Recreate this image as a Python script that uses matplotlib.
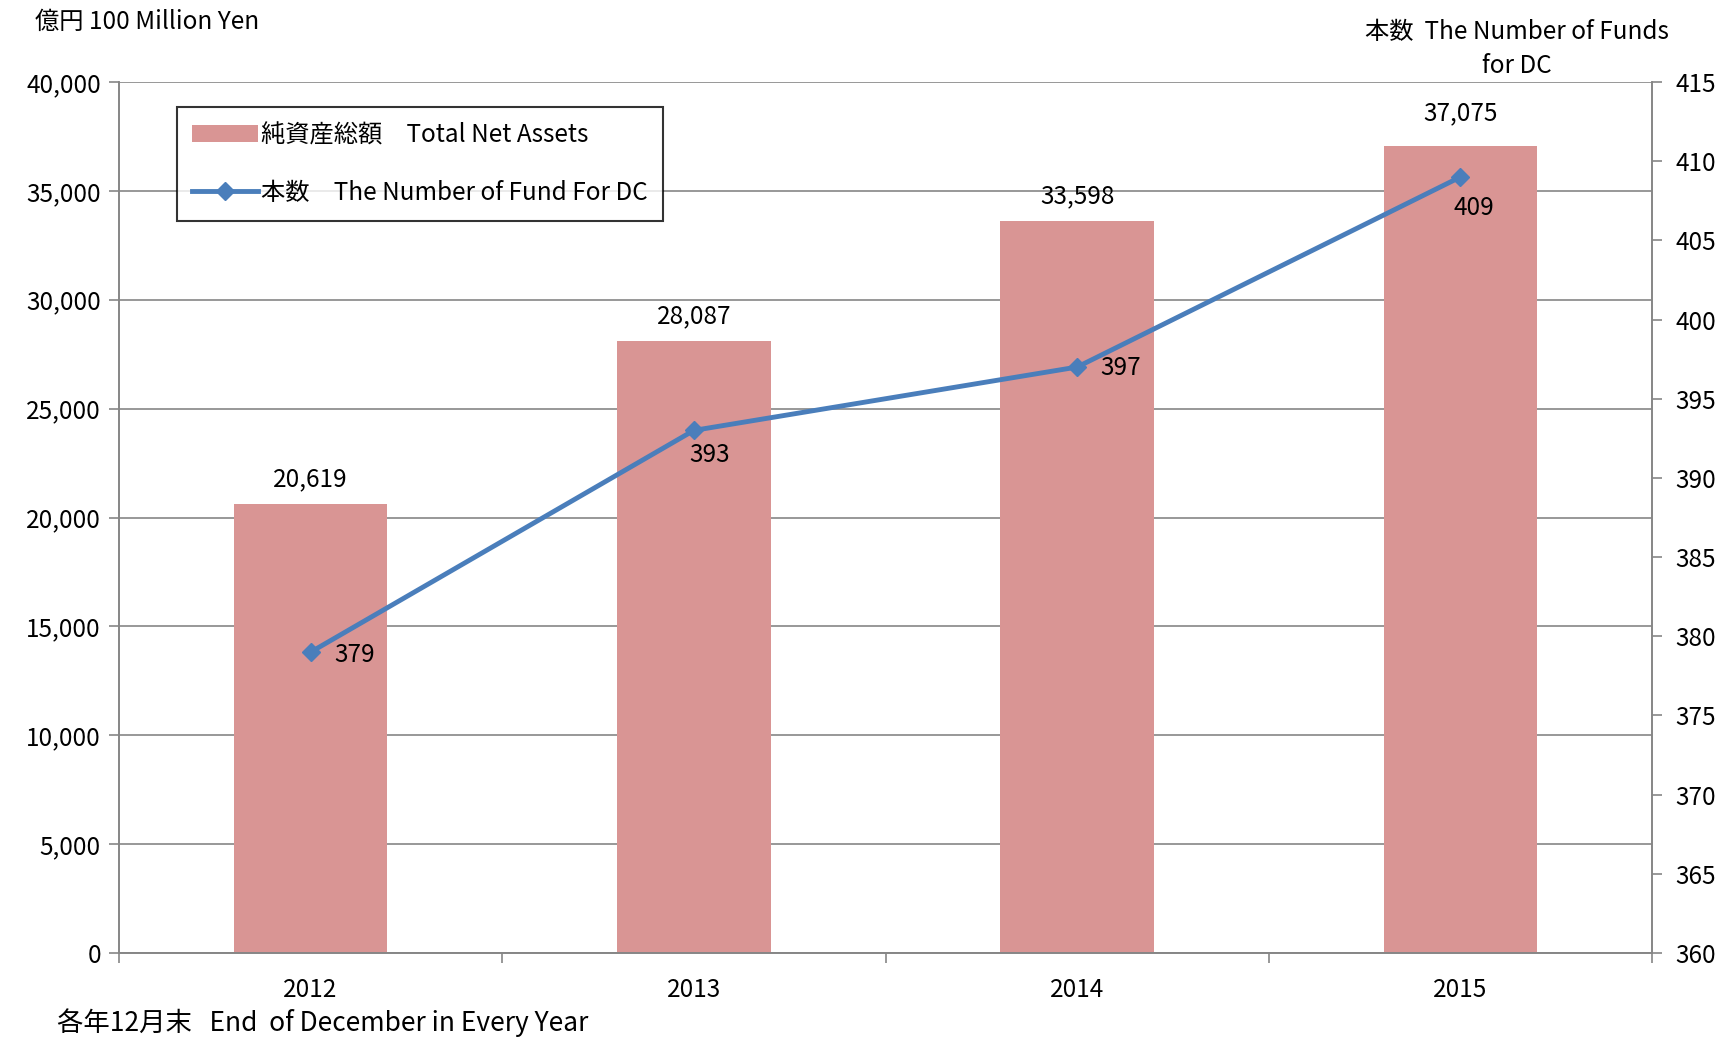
import matplotlib.pyplot as plt
import numpy as np

plt.rcParams['font.family'] = ['Noto Sans CJK JP', 'DejaVu Sans']

years = ['2012', '2013', '2014', '2015']
net_assets = [20619, 28087, 33598, 37075]
num_funds = [379, 393, 397, 409]

bar_color = '#d99594'
line_color = '#4a7ebb'
axis_gray = '#868686'
fs = 17.5

fig = plt.figure(figsize=(17.22, 10.38), dpi=100)
ax = fig.add_axes([119 / 1722, 1 - 953 / 1038, (1652 - 119) / 1722, (953 - 82) / 1038])
ax2 = ax.twinx()

x = np.arange(len(years))
bars = ax.bar(x, net_assets, width=0.4, color=bar_color, zorder=2,
              label='純資産総額　Total Net Assets')
ax.set_xlim(-0.5, len(years) - 0.5)
ax.set_ylim(0, 40000)
ax.set_yticks(np.arange(0, 40001, 5000))
ax.set_yticklabels([f'{v:,}' for v in range(0, 40001, 5000)])
ax.yaxis.grid(True, color=axis_gray, linewidth=1.2, zorder=0)
ax.set_axisbelow(True)
ax.set_xticks(x)
ax.set_xticklabels(years)
ax.set_xticks(np.arange(-0.5, len(years)), minor=True)
ax.tick_params(axis='x', which='major', length=0, pad=17, labelsize=fs)
ax.tick_params(axis='x', which='minor', length=7, color=axis_gray, width=1.2)
ax.tick_params(axis='y', length=7, color=axis_gray, width=1.2, labelsize=fs, pad=6)

bar_offsets = [18, 18, 18, 23]
for b, v, off in zip(bars, net_assets, bar_offsets):
    ax.annotate(f'{v:,}', (b.get_x() + b.get_width() / 2, v), xytext=(0, off),
                textcoords='offset points', ha='center', va='center', fontsize=fs)

line, = ax2.plot(x, num_funds, color=line_color, linewidth=3.5, marker='D',
                 markersize=9, zorder=3, label='本数　The Number of Fund For DC')
ax2.set_ylim(360, 415)
ax2.set_yticks(np.arange(360, 416, 5))
ax2.tick_params(axis='y', length=7, color=axis_gray, width=1.2, labelsize=fs, pad=10)

# label offsets (points) roughly like Excel's automatic placement
label_offsets = [(32, -2), (11, -18), (31, -1), (10, -22)]
for xi, v, off in zip(x, num_funds, label_offsets):
    ax2.annotate(str(v), (xi, v), xytext=off, textcoords='offset points',
                 ha='center', va='center', fontsize=fs)

for a in (ax, ax2):
    for side in ('left', 'right', 'bottom'):
        a.spines[side].set_color(axis_gray)
        a.spines[side].set_linewidth(1.2)
    a.spines['top'].set_visible(False)

leg = ax.legend(handles=[bars, line], loc='upper left',
                bbox_to_anchor=(177 / 1722, 1 - 107 / 1038),
                bbox_transform=fig.transFigure, borderaxespad=0,
                fontsize=fs, frameon=True, fancybox=False, borderpad=0.62,
                labelspacing=1.3, handlelength=2.7, handletextpad=0.15)
leg.get_frame().set_edgecolor('black')
leg.get_frame().set_linewidth(1.5)

fig.text(35 / 1722, 1 - 22 / 1038, '億円 100 Million Yen', ha='left', va='center', fontsize=fs)
fig.text(1517 / 1722, 1 - 49 / 1038, '本数  The Number of Funds\nfor DC', ha='center',
         va='center', fontsize=fs, linespacing=1.4)
fig.text(57 / 1722, 1 - 1023 / 1038, '各年12月末   End  of December in Every Year',
         ha='left', va='center', fontsize=19)

fig.savefig('out.png', dpi=100)
